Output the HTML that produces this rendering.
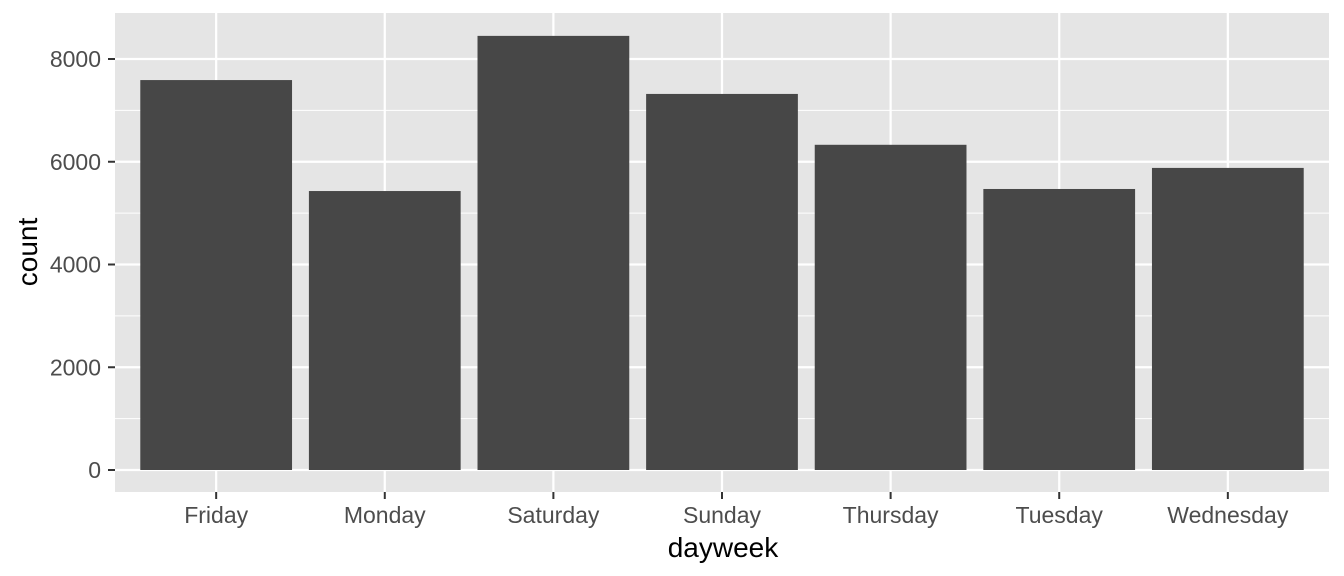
<!DOCTYPE html>
<html><head><meta charset="utf-8">
<style>
html,body{margin:0;padding:0;background:#fff;}
svg{display:block;font-family:"Liberation Sans",Arial,sans-serif;}
</style></head>
<body>
<svg id="chart" width="1344" height="576" viewBox="0 0 1344 576">
<rect x="0" y="0" width="1344" height="576" fill="#fff"/>
<rect id="panel" x="115" y="13" width="1214" height="479" fill="#e5e5e5"/>
<g id="grid"></g>
<g id="bars"></g>
<g id="axes"></g>
<text x="723" y="557" text-anchor="middle" font-size="28" fill="#000">dayweek</text>
<text x="0" y="0" transform="translate(37,252) rotate(-90)" text-anchor="middle" font-size="28" fill="#000">count</text>
</svg>
<script>
const categories = ["Friday","Monday","Saturday","Sunday","Thursday","Tuesday","Wednesday"];
const counts = [7590,5430,8450,7320,6330,5470,5880];
const yTicks = [0,2000,4000,6000,8000];
const yTickLabels = ["0","2000","4000","6000","8000"];

const NS="http://www.w3.org/2000/svg";
const panelL=115, panelR=1329, y0px=470, pxPerUnit=(470-59)/8000;
const step=(panelR-panelL)/(categories.length-1+1.2);
function xScale(i){return panelL+step*(0.6+i);}
function yScale(v){return y0px-v*pxPerUnit;}
function mk(tag,attrs,parent){const e=document.createElementNS(NS,tag);for(const k in attrs)e.setAttribute(k,attrs[k]);parent.appendChild(e);return e;}
const grid=document.getElementById('grid'), bars=document.getElementById('bars'), axes=document.getElementById('axes');
const minorTicks=[];
for(let i=0;i<yTicks.length-1;i++)minorTicks.push((yTicks[i]+yTicks[i+1])/2);
minorTicks.push(yTicks[yTicks.length-1]+(yTicks[1]-yTicks[0])/2);
minorTicks.forEach(v=>{const y=yScale(v);if(y<13)return;
  const l=mk('line',{x1:panelL,x2:panelR,y1:y,y2:y,stroke:'#fff','stroke-width':1.1},grid);
  
  });
yTicks.forEach((v,i)=>{const y=yScale(v);
  const l=mk('line',{x1:panelL,x2:panelR,y1:y,y2:y,stroke:'#fff','stroke-width':2.2},grid);
  
  
  const t=mk('line',{x1:panelL-7,x2:panelL,y1:y,y2:y,stroke:'#333','stroke-width':2},axes);
  
  
  const tx=mk('text',{x:panelL-14,y:y+8,'text-anchor':'end','font-size':23,fill:'#4d4d4d'},axes);
  tx.textContent=yTickLabels[i];
  
  });
categories.forEach((c,i)=>{const x=xScale(i);
  const g=mk('line',{x1:x,x2:x,y1:13,y2:492,stroke:'#fff','stroke-width':2.2},grid);
  
  
  const w=step*0.9, top=yScale(counts[i]);
  const b=mk('rect',{x:x-w/2,y:top,width:w,height:y0px-top,fill:'#474747'},bars);
  
  
  const t=mk('line',{x1:x,x2:x,y1:492,y2:499,stroke:'#333','stroke-width':2},axes);
  
  
  const tx=mk('text',{x:x,y:523,'text-anchor':'middle','font-size':23,fill:'#4d4d4d'},axes);
  tx.textContent=c;
  
  });
</script>
</body></html>
